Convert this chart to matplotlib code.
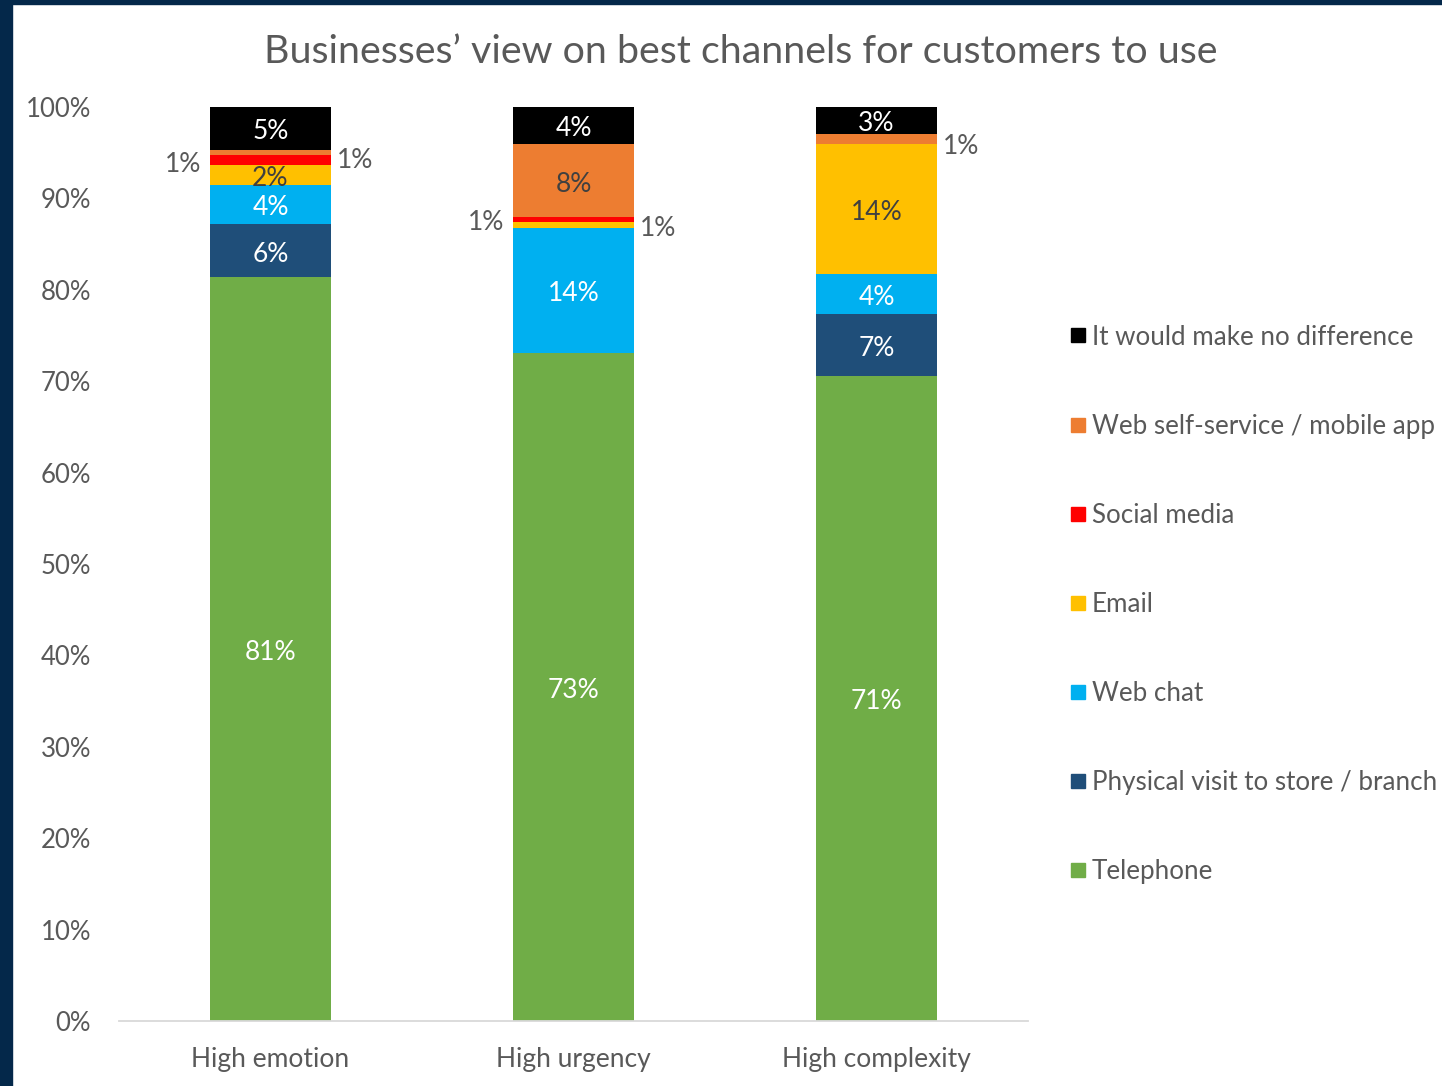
"""Stacked bar chart: businesses' view on best channels for customers to use."""
import matplotlib.pyplot as plt
from matplotlib.patches import Rectangle
from matplotlib.lines import Line2D

plt.rcParams["font.family"] = ["Lato", "DejaVu Sans"]

# --- data ------------------------------------------------------------
categories = ["High emotion", "High urgency", "High complexity"]
series = [
    "Telephone",
    "Physical visit to store / branch",
    "Web chat",
    "Email",
    "Social media",
    "Web self-service / mobile app",
    "It would make no difference",
]
telephone = [81.4, 73.1, 70.6]
physical = [5.8, 0.0, 6.8]
web_chat = [4.3, 13.7, 4.3]
email = [2.1, 0.6, 14.2]
social = [1.1, 0.6, 0.0]
web_self = [0.6, 7.9, 1.1]
no_diff = [4.8, 4.3, 3.2]

values = [telephone, physical, web_chat, email, social, web_self, no_diff]
colors = ["#70AD47", "#1F4E79", "#00B0F0", "#FFC000", "#FF0000", "#ED7D31", "#000000"]
label_colors = ["white", "white", "white", "#404040", "#404040", "#404040", "white"]
# small segments get their label outside the bar: (series, category) -> side, dy
outside = {
    (4, 0): ("left", -0.05), (5, 0): ("right", -0.5),
    (4, 1): ("left", 0.05), (3, 1): ("right", 0.0),
    (5, 2): ("right", -0.35),
}

GREY = "#595959"
FS = 19

# --- figure ----------------------------------------------------------
fig = plt.figure(figsize=(14.42, 10.86), dpi=100)
ax = fig.add_axes([0.0825, 0.0599, 0.6304, 0.8416])

x = range(len(categories))
bottom = [0.0] * len(categories)
for si, (vals, col) in enumerate(zip(values, colors)):
    ax.bar(x, vals, bottom=bottom, width=0.4, color=col, zorder=2)
    for ci, v in enumerate(vals):
        if v <= 0:
            continue
        yc = bottom[ci] + v / 2 - 0.4
        txt = f"{v:.0f}%"
        if (si, ci) in outside:
            side, dy = outside[(si, ci)]
            if side == "left":
                ax.text(ci - 0.23, yc + dy, txt, ha="right", va="center",
                        fontsize=FS, color=GREY)
            else:
                ax.text(ci + 0.22, yc + dy, txt, ha="left", va="center",
                        fontsize=FS, color=GREY)
        else:
            ax.text(ci, yc, txt, ha="center", va="center", fontsize=FS,
                    color=label_colors[si])
    bottom = [b + v for b, v in zip(bottom, vals)]

ax.set_xlim(-0.5, 2.5)
ax.set_ylim(0, 100)
ax.set_yticks(range(0, 101, 10))
ax.set_yticklabels([f"{t}%" for t in range(0, 101, 10)])
ax.set_xticks(list(x))
ax.set_xticklabels(categories)
ax.tick_params(length=0, labelsize=18.5, colors=GREY)
ax.tick_params(axis="y", pad=20)
ax.tick_params(axis="x", labelsize=FS, pad=19)
for s in ["top", "right", "left"]:
    ax.spines[s].set_visible(False)
ax.spines["bottom"].set_color("#D9D9D9")
ax.spines["bottom"].set_linewidth(1.3)

fig.text(0.5135, 0.952, "Businesses\u2019 view on best channels for customers to use",
         ha="center", va="center", fontsize=28.4, color=GREY)

# legend, reversed so that the top segment is listed first
handles = [Line2D([], [], marker="s", linestyle="none", markersize=10,
                  markerfacecolor=c, markeredgecolor=c) for c in colors[::-1]]
fig.legend(handles, series[::-1], loc="center left",
           bbox_to_anchor=(0.7355, 0.4434), frameon=False, fontsize=18.7,
           labelcolor=GREY, handlelength=0.55, handletextpad=0.25,
           labelspacing=2.47, borderaxespad=0)

# dark frame at the left and top edges
fig.patches.append(Rectangle((0, 0), 12 / 1442, 1, transform=fig.transFigure,
                             color="#04284A", zorder=10))
fig.patches.append(Rectangle((0, 1 - 4 / 1086), 1, 4 / 1086,
                             transform=fig.transFigure, color="#04284A", zorder=10))

fig.savefig("out.png", dpi=100)
